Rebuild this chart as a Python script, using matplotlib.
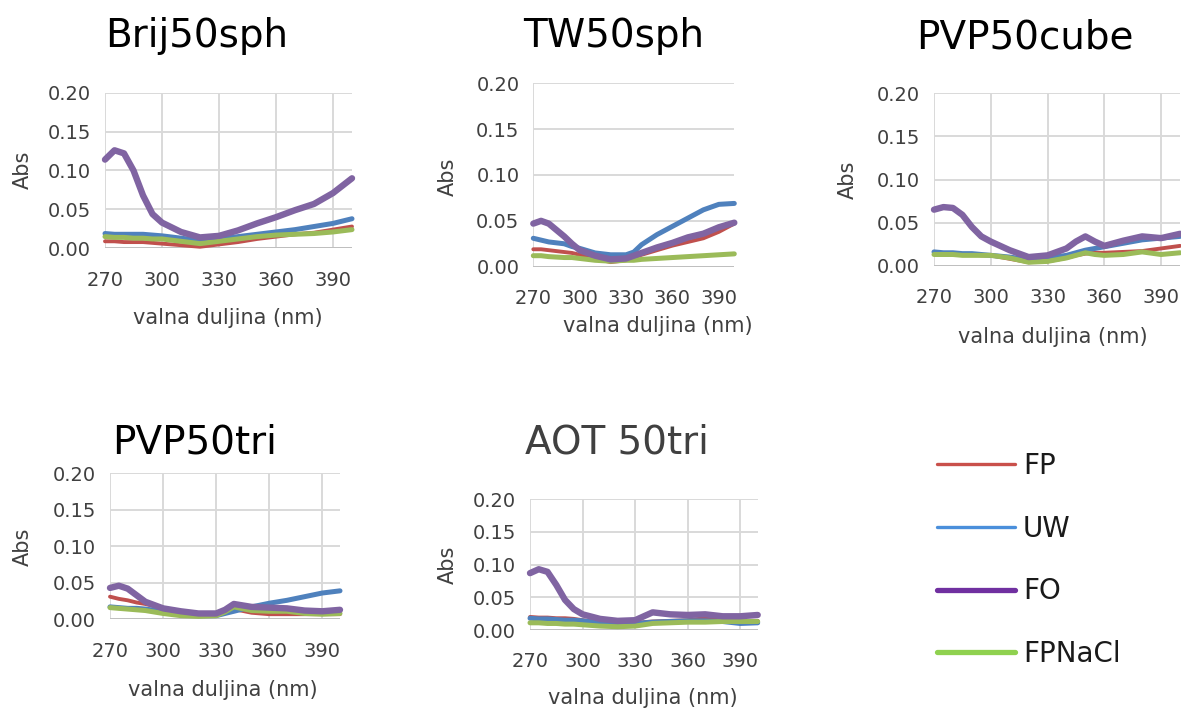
import matplotlib
matplotlib.use("Agg")
import matplotlib.pyplot as plt
from matplotlib.lines import Line2D

plt.rcParams['font.family'] = ['DejaVu Sans']

W, H = 1181, 715
DPI = 100

series_names = ["FP", "UW", "FO", "FPNaCl"]
xticks = [270, 300, 330, 360, 390]
yticks = [0.00, 0.05, 0.10, 0.15, 0.20]
ytick_labels = ["0.00", "0.05", "0.10", "0.15", "0.20"]

# ---- Brij50sph ----
brij_x = [270, 275, 280, 285, 290, 295, 300, 310, 320, 330, 340, 350, 360, 370, 380, 390, 400]
brij_FO = [0.114, 0.126, 0.122, 0.100, 0.068, 0.044, 0.033, 0.021, 0.014, 0.016, 0.023, 0.032, 0.040, 0.049, 0.057, 0.071, 0.090]
brij_FP = [0.009, 0.009, 0.008, 0.008, 0.008, 0.007, 0.006, 0.004, 0.002, 0.005, 0.008, 0.012, 0.015, 0.018, 0.020, 0.024, 0.028]
brij_UW = [0.019, 0.018, 0.018, 0.018, 0.018, 0.017, 0.016, 0.013, 0.010, 0.012, 0.015, 0.018, 0.021, 0.024, 0.028, 0.032, 0.038]
brij_FPNaCl = [0.015, 0.014, 0.014, 0.013, 0.013, 0.012, 0.012, 0.009, 0.006, 0.009, 0.012, 0.015, 0.017, 0.018, 0.019, 0.021, 0.024]

# ---- TW50sph ----
tw_x = [270, 275, 280, 290, 295, 300, 310, 320, 330, 335, 340, 350, 360, 370, 380, 390, 400]
tw_FO = [0.047, 0.050, 0.047, 0.033, 0.025, 0.018, 0.012, 0.008, 0.009, 0.012, 0.015, 0.021, 0.026, 0.032, 0.036, 0.043, 0.048]
tw_UW = [0.031, 0.029, 0.027, 0.025, 0.022, 0.020, 0.015, 0.013, 0.013, 0.016, 0.024, 0.035, 0.044, 0.053, 0.062, 0.068, 0.069]
tw_FP = [0.019, 0.019, 0.018, 0.016, 0.015, 0.013, 0.009, 0.005, 0.007, 0.010, 0.013, 0.018, 0.023, 0.027, 0.031, 0.038, 0.047]
tw_FPNaCl = [0.012, 0.012, 0.011, 0.010, 0.010, 0.009, 0.007, 0.006, 0.007, 0.007, 0.008, 0.009, 0.010, 0.011, 0.012, 0.013, 0.014]

# ---- PVP50cube ----
cube_x = [270, 275, 280, 285, 290, 295, 300, 310, 320, 330, 340, 345, 350, 355, 360, 370, 380, 390, 400]
cube_FO = [0.065, 0.068, 0.067, 0.059, 0.045, 0.034, 0.028, 0.018, 0.010, 0.012, 0.020, 0.028, 0.034, 0.028, 0.023, 0.029, 0.034, 0.032, 0.037]
cube_UW = [0.016, 0.015, 0.015, 0.014, 0.014, 0.013, 0.012, 0.010, 0.007, 0.009, 0.012, 0.015, 0.018, 0.020, 0.022, 0.026, 0.030, 0.032, 0.034]
cube_FP = [0.014, 0.014, 0.013, 0.013, 0.013, 0.012, 0.012, 0.008, 0.004, 0.005, 0.009, 0.012, 0.014, 0.015, 0.015, 0.016, 0.017, 0.020, 0.023]
cube_FPNaCl = [0.013, 0.013, 0.013, 0.012, 0.012, 0.012, 0.012, 0.009, 0.004, 0.005, 0.009, 0.012, 0.015, 0.013, 0.012, 0.013, 0.016, 0.013, 0.015]

# ---- PVP50tri ----
tri_x = [270, 275, 280, 285, 290, 300, 310, 320, 330, 335, 340, 350, 360, 370, 380, 390, 400]
tri_FO = [0.043, 0.046, 0.042, 0.033, 0.024, 0.015, 0.011, 0.008, 0.008, 0.013, 0.021, 0.017, 0.016, 0.015, 0.012, 0.011, 0.013]
tri_UW = [0.017, 0.016, 0.015, 0.015, 0.014, 0.011, 0.008, 0.005, 0.005, 0.008, 0.011, 0.017, 0.022, 0.026, 0.031, 0.036, 0.039]
tri_FP = [0.031, 0.028, 0.026, 0.023, 0.021, 0.015, 0.011, 0.007, 0.008, 0.011, 0.014, 0.009, 0.007, 0.007, 0.007, 0.007, 0.007]
tri_FPNaCl = [0.016, 0.015, 0.014, 0.013, 0.012, 0.008, 0.005, 0.004, 0.005, 0.010, 0.017, 0.012, 0.011, 0.011, 0.008, 0.007, 0.008]

# ---- AOT 50tri ----
aot_x = [270, 275, 280, 285, 290, 295, 300, 310, 320, 330, 335, 340, 350, 360, 370, 380, 390, 400]
aot_FO = [0.087, 0.093, 0.089, 0.069, 0.046, 0.032, 0.024, 0.017, 0.014, 0.015, 0.021, 0.027, 0.024, 0.023, 0.024, 0.021, 0.021, 0.023]
aot_UW = [0.018, 0.017, 0.017, 0.016, 0.015, 0.015, 0.014, 0.011, 0.008, 0.009, 0.011, 0.012, 0.013, 0.014, 0.014, 0.013, 0.010, 0.011]
aot_FP = [0.020, 0.019, 0.019, 0.018, 0.018, 0.017, 0.015, 0.012, 0.010, 0.010, 0.012, 0.013, 0.014, 0.015, 0.018, 0.015, 0.014, 0.014]
aot_FPNaCl = [0.011, 0.011, 0.010, 0.010, 0.009, 0.009, 0.008, 0.006, 0.005, 0.006, 0.008, 0.010, 0.011, 0.012, 0.012, 0.013, 0.013, 0.013]

colors = {"FP": "#C0504D", "UW": "#4F81BD", "FO": "#8064A2", "FPNaCl": "#9BBB59"}
widths = {"FP": 2.8, "UW": 3.6, "FO": 4.6, "FPNaCl": 3.6}
legend_colors = {"FP": "#C9504B", "UW": "#4A8FDB", "FO": "#7030A0", "FPNaCl": "#8FD14F"}
legend_widths = {"FP": 2.4, "UW": 2.4, "FO": 3.8, "FPNaCl": 3.8}
draw_order = ["FP", "UW", "FPNaCl", "FO"]

panels = [
    dict(title="Brij50sph", tpos=(105, 46.7), tcolor="#000000",
         box=(105, 92.7, 352, 248.3), vgrid=True, x=brij_x,
         data={"FP": brij_FP, "UW": brij_UW, "FO": brij_FO, "FPNaCl": brij_FPNaCl},
         xlab=(228, 318), ylab=(23, 170)),
    dict(title="TW50sph", tpos=(523, 46.7), tcolor="#000000",
         box=(533.3, 83.3, 734.3, 266.7), vgrid=False, x=tw_x,
         data={"FP": tw_FP, "UW": tw_UW, "FO": tw_FO, "FPNaCl": tw_FPNaCl},
         xlab=(658, 326), ylab=(448, 177)),
    dict(title="PVP50cube", tpos=(916, 48.3), tcolor="#000000",
         box=(934, 93.3, 1180, 265.7), vgrid=True, x=cube_x,
         data={"FP": cube_FP, "UW": cube_UW, "FO": cube_FO, "FPNaCl": cube_FPNaCl},
         xlab=(1053, 337), ylab=(848, 180)),
    dict(title="PVP50tri", tpos=(111.7, 453.3), tcolor="#000000",
         box=(110, 473.3, 340, 619.3), vgrid=True, x=tri_x,
         data={"FP": tri_FP, "UW": tri_UW, "FO": tri_FO, "FPNaCl": tri_FPNaCl},
         xlab=(223, 690), ylab=(23, 547)),
    dict(title="AOT 50tri", tpos=(525, 453.3), tcolor="#404040",
         box=(530, 499.3, 757.7, 630), vgrid=True, x=aot_x,
         data={"FP": aot_FP, "UW": aot_UW, "FO": aot_FO, "FPNaCl": aot_FPNaCl},
         xlab=(643, 698), ylab=(448, 565)),
]

fig = plt.figure(figsize=(W / DPI, H / DPI), dpi=DPI)
fig.patch.set_facecolor("white")

TXT = "#404040"
GRID = "#D9D9D9"

for p in panels:
    l, t, r, b = p["box"]
    ax = fig.add_axes([l / W, 1 - b / H, (r - l) / W, (b - t) / H])
    ax.set_xlim(270, 400)
    ax.set_ylim(0, 0.20)
    for s in ["top", "right", "bottom", "left"]:
        ax.spines[s].set_visible(False)
    ax.set_axisbelow(True)
    ax.set_yticks(yticks)
    ax.set_yticklabels(ytick_labels)
    ax.set_xticks(xticks)
    ax.tick_params(axis="both", length=0, labelsize=14, colors=TXT)
    ax.tick_params(axis="x", pad=16)
    ax.tick_params(axis="y", pad=10)
    ax.yaxis.grid(True, color=GRID, lw=1.4)
    if p["vgrid"]:
        ax.xaxis.grid(True, color=GRID, lw=1.4)
    else:
        ax.axvline(270, color=GRID, lw=1.4, zorder=0.5)
    ax.axhline(0, color="#BFBFBF", lw=1.4, zorder=0.6)
    for name in draw_order:
        ax.plot(p["x"], p["data"][name], color=colors[name], lw=widths[name],
                solid_capstyle="round", solid_joinstyle="round", clip_on=False, zorder=3)
    fig.text(p["tpos"][0] / W, 1 - p["tpos"][1] / H, p["title"], fontsize=28,
             color=p["tcolor"], ha="left", va="baseline")
    fig.text(p["xlab"][0] / W, 1 - p["xlab"][1] / H, "valna duljina (nm)", fontsize=15,
             color=TXT, ha="center", va="center")
    fig.text(p["ylab"][0] / W, 1 - p["ylab"][1] / H, "Abs", fontsize=15,
             color=TXT, ha="center", va="center", rotation=90)

handles = [Line2D([0], [0], color=legend_colors[n], lw=legend_widths[n], solid_capstyle="round")
           for n in series_names]
fig.legend(handles, series_names, loc="upper left",
           bbox_to_anchor=(937 / W, 1 - 452 / H), frameon=False, fontsize=20,
           handlelength=2.8, handletextpad=0.3, labelspacing=1.25,
           borderpad=0, borderaxespad=0, labelcolor="#1a1a1a")

fig.savefig("out.png", dpi=DPI, facecolor="white")
